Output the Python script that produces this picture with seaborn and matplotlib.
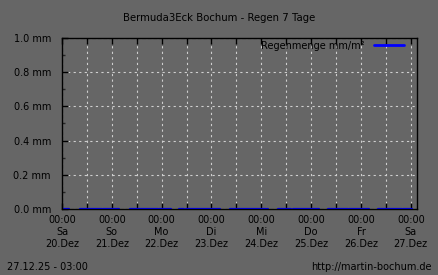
import matplotlib
matplotlib.use("Agg")
import matplotlib.pyplot as plt
import matplotlib.dates as mdates
import seaborn as sns
import pandas as pd
import numpy as np

# ---- data ----
title = "Bermuda3Eck Bochum - Regen 7 Tage"
series_label = "Regenmenge mm/m²"
base_time = "2025-12-20 00:00"
# rain segments (hours after base_time) where data exists; value 0.0 mm
seg_start_h = [0.0, 8.6, 19.7, 32.6, 46.6, 56.2, 59.5, 72.0, 81.1, 85.0, 98.8,
               104.2, 111.4, 128.2, 138.2, 152.2, 164.2]
seg_end_h = [3.4, 19.2, 27.4, 46.1, 52.3, 58.6, 71.5, 76.3, 84.5, 98.4, 99.3,
             110.4, 123.8, 137.8, 147.8, 163.7, 168.5]
seg_value = [0.0] * len(seg_start_h)
day_labels = ["00:00\nSa\n20.Dez", "00:00\nSo\n21.Dez", "00:00\nMo\n22.Dez",
              "00:00\nDi\n23.Dez", "00:00\nMi\n24.Dez", "00:00\nDo\n25.Dez",
              "00:00\nFr\n26.Dez", "00:00\nSa\n27.Dez"]
y_ticks = [0.0, 0.2, 0.4, 0.6, 0.8, 1.0]
y_tick_labels = ["0.0 mm", "0.2 mm", "0.4 mm", "0.6 mm", "0.8 mm", "1.0 mm"]
x_end = "2025-12-27 03:00"
footer_left = "27.12.25 - 03:00"
footer_right = "http://martin-bochum.de"

# ---- build frame ----
t0 = pd.Timestamp(base_time)
rows = []
for i, (s, e, v) in enumerate(zip(seg_start_h, seg_end_h, seg_value)):
    rows.append({"time": t0 + pd.Timedelta(hours=s), "value": v, "seg": i})
    rows.append({"time": t0 + pd.Timedelta(hours=e), "value": v, "seg": i})
df = pd.DataFrame(rows)

sns.set_theme(style="white")
bg = "#666666"
plt.rcParams["font.family"] = ["DejaVu Sans"]
plt.rcParams["font.size"] = 7

fig = plt.figure(figsize=(4.38, 2.75), dpi=100, facecolor=bg)
ax = fig.add_axes([62 / 438, 1 - 209 / 275, (417 - 62) / 438, (209 - 38) / 275])
ax.set_facecolor(bg)

sns.lineplot(data=df, x="time", y="value", units="seg", estimator=None,
             color="#0000ff", linewidth=1.6, ax=ax, legend=False, zorder=2)
ax.plot([], [], color="#0000ff", linewidth=2.0, label=series_label)

ax.set_xlim(t0, pd.Timestamp(x_end))
ax.set_ylim(0, 1.0)

day_ticks = [t0 + pd.Timedelta(days=d) for d in range(len(day_labels))]
ax.set_xticks(day_ticks)
ax.set_xticklabels(day_labels, linespacing=1.3)
ax.xaxis.set_minor_locator(mdates.HourLocator(byhour=[12]))
ax.set_yticks(y_ticks)
ax.set_yticklabels(y_tick_labels)
ax.set_yticks(np.arange(0.1, 1.0, 0.2), minor=True)

ax.tick_params(axis="x", which="major", direction="in", length=4, width=1,
               top=True, bottom=True, pad=4, colors="black", labelsize=7)
ax.tick_params(axis="x", which="minor", direction="in", length=4, width=1,
               top=True, bottom=True, colors="black")
ax.tick_params(axis="y", which="major", direction="in", length=4, width=1,
               left=True, right=False, pad=8, colors="black", labelsize=7)
ax.tick_params(axis="y", which="minor", direction="in", length=2.5, width=1,
               left=True, right=False)
for lab in ax.get_xticklabels() + ax.get_yticklabels():
    lab.set_color("#000000")

ax.grid(True, which="major", color="#cfcfcf", linestyle=(0, (2, 3)), linewidth=0.8)
ax.grid(True, which="minor", axis="x", color="#cfcfcf", linestyle=(0, (2, 3)), linewidth=0.8)
ax.set_axisbelow(True)

for sp in ax.spines.values():
    sp.set_color("black")
    sp.set_linewidth(1.0)
    sp.set_visible(True)
    sp.set_zorder(3)

ax.set_xlabel("")
ax.set_ylabel("")

leg = ax.legend(loc="upper right", frameon=False, fontsize=7, handlelength=3.1,
                handletextpad=0.9, borderaxespad=0.0, borderpad=0.0,
                markerfirst=False, bbox_to_anchor=(0.963, 0.985))
for t in leg.get_texts():
    t.set_color("black")

fig.text(219 / 438, 1 - 18 / 275, title, ha="center", va="center", fontsize=7.3, color="black")
fig.text(7 / 438, 1 - 267 / 275, footer_left, ha="left", va="center", fontsize=7, color="black")
fig.text(432 / 438, 1 - 267 / 275, footer_right, ha="right", va="center", fontsize=7, color="black")

fig.savefig("out.png", dpi=100, facecolor=bg)
